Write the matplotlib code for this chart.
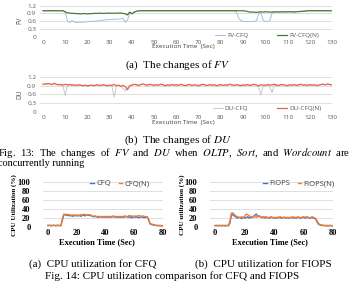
import numpy as np
import matplotlib
matplotlib.use("Agg")
import matplotlib.pyplot as plt

plt.rcParams['mathtext.fontset'] = 'stix'

# ---------------- data ----------------
fv_time = list(range(0, 131))
fv_cfq = [1.0, 1.0, 1.0, 1.0, 1.0, 1.0, 1.0, 1.0, 1.0, 1.0,
          0.92, 0.62, 0.55, 0.63, 0.57, 0.55, 0.56, 0.56, 0.57, 0.57,
          0.58, 0.59, 0.60, 0.60, 0.61, 0.62, 0.63, 0.64, 0.65, 0.66,
          0.66, 0.67, 0.67, 0.68, 0.68, 0.69, 0.72, 0.56, 0.64, 0.92,
          0.90, 0.95, 0.98, 1.0, 1.0, 1.0, 1.0, 1.0, 1.0, 1.0,
          1.0, 1.0, 1.0, 1.0, 1.0, 1.0, 1.0, 1.0, 1.0, 1.0,
          1.0, 1.0, 1.0, 1.0, 1.0, 1.0, 1.0, 1.0, 1.0, 1.0,
          1.0, 1.0, 1.0, 1.0, 1.0, 1.0, 1.0, 1.0, 1.0, 1.0,
          1.0, 1.0, 1.0, 1.0, 1.0, 1.0, 1.0, 0.96, 0.72, 0.62,
          0.60, 0.59, 0.59, 0.59, 0.59, 0.60, 0.62, 0.88, 0.93, 0.64,
          0.59, 0.59, 0.62, 0.90, 0.95, 0.96, 0.97, 0.96, 0.97, 0.97,
          0.96, 0.97, 0.97, 0.96, 0.97, 0.97, 0.98, 0.98, 0.99, 1.0,
          1.0, 1.0, 1.0, 1.0, 1.0, 1.0, 1.0, 1.0, 1.0, 1.0,
          1.0]
fv_cfq_n = [1.0, 1.0, 1.0, 1.0, 1.0, 1.0, 1.0, 1.0, 1.0, 1.0,
            0.96, 0.92, 0.91, 0.90, 0.90, 0.89, 0.89, 0.88, 0.89, 0.89,
            0.88, 0.89, 0.89, 0.90, 0.90, 0.90, 0.91, 0.90, 0.90, 0.91,
            0.91, 0.90, 0.91, 0.91, 0.91, 0.91, 0.90, 0.88, 0.84, 0.95,
            0.88, 0.95, 0.98, 1.0, 1.0, 1.0, 1.0, 1.0, 1.0, 1.0,
            1.0, 1.0, 1.0, 1.0, 1.0, 1.0, 1.0, 1.0, 1.0, 1.0,
            1.0, 1.0, 1.0, 1.0, 1.0, 1.0, 1.0, 1.0, 1.0, 1.0,
            1.0, 1.0, 1.0, 1.0, 1.0, 1.0, 1.0, 1.0, 1.0, 1.0,
            1.0, 1.0, 1.0, 1.0, 1.0, 1.0, 1.0, 1.0, 1.0, 1.0,
            1.0, 0.99, 0.97, 0.95, 0.95, 0.95, 0.94, 0.95, 0.96, 0.95,
            0.96, 0.96, 0.95, 0.95, 0.96, 0.96, 0.95, 0.96, 0.96, 0.95,
            0.96, 0.96, 0.96, 0.95, 0.96, 0.97, 0.97, 0.98, 0.99, 1.0,
            1.0, 1.0, 1.0, 1.0, 1.0, 1.0, 1.0, 1.0, 1.0, 1.0,
            1.0]

du_cfq_n = [0.95, 0.96, 0.97, 0.96, 0.94, 0.98, 0.95, 0.93, 0.94, 0.92,
            0.95, 0.93, 0.94, 0.92, 0.93, 0.91, 0.93, 0.92, 0.90, 0.92,
            0.89, 0.91, 0.92, 0.90, 0.93, 0.92, 0.91, 0.93, 0.92, 0.90,
            0.92, 0.91, 0.94, 0.90, 0.92, 0.88, 0.91, 0.86, 0.76, 0.90,
            0.92, 0.95, 0.93, 0.91, 0.94, 0.96, 0.93, 0.92, 0.95, 0.93,
            0.91, 0.94, 0.92, 0.95, 0.93, 0.90, 0.93, 0.91, 0.94, 0.92,
            0.93, 0.91, 0.95, 0.92, 0.90, 0.93, 0.94, 0.91, 0.93, 0.92,
            0.90, 0.93, 0.95, 0.92, 0.91, 0.94, 0.92, 0.93, 0.90, 0.92,
            0.94, 0.91, 0.93, 0.92, 0.95, 0.93, 0.91, 0.94, 0.92, 0.90,
            0.93, 0.92, 0.94, 0.91, 0.93, 0.95, 0.92, 0.90, 0.93, 0.92,
            0.91, 0.94, 0.92, 0.93, 0.95, 0.92, 0.91, 0.94, 0.93, 0.92,
            0.90, 0.93, 0.92, 0.94, 0.91, 0.93, 0.95, 0.92, 0.93, 0.91,
            0.94, 0.92, 0.93, 0.91, 0.92, 0.94, 0.95, 0.93, 0.96, 0.94,
            0.93]
du_cfq = [0.94, 0.95, 0.96, 0.97, 0.93, 0.97, 0.94, 0.92, 0.93, 0.88,
          0.56, 0.90, 0.93, 0.91, 0.92, 0.90, 0.92, 0.91, 0.89, 0.91,
          0.88, 0.90, 0.91, 0.89, 0.92, 0.91, 0.90, 0.92, 0.91, 0.89,
          0.91, 0.88, 0.50, 0.89, 0.91, 0.87, 0.80, 0.72, 0.82, 0.89,
          0.91, 0.94, 0.92, 0.90, 0.93, 0.95, 0.92, 0.91, 0.94, 0.92,
          0.90, 0.93, 0.91, 0.94, 0.92, 0.89, 0.92, 0.90, 0.93, 0.91,
          0.92, 0.90, 0.94, 0.91, 0.89, 0.92, 0.93, 0.90, 0.92, 0.91,
          0.89, 0.92, 0.94, 0.91, 0.90, 0.93, 0.91, 0.92, 0.89, 0.91,
          0.93, 0.90, 0.92, 0.91, 0.94, 0.92, 0.90, 0.93, 0.91, 0.89,
          0.92, 0.91, 0.93, 0.90, 0.92, 0.94, 0.91, 0.86, 0.58, 0.88,
          0.90, 0.93, 0.88, 0.66, 0.90, 0.91, 0.90, 0.93, 0.92, 0.91,
          0.89, 0.92, 0.91, 0.93, 0.90, 0.92, 0.94, 0.91, 0.92, 0.90,
          0.93, 0.91, 0.92, 0.90, 0.91, 0.93, 0.94, 0.92, 0.95, 0.93,
          0.92]

cpu_time = list(range(0, 81))
cpu_cfq = [3, 3, 2, 3, 3, 2, 3, 3, 2, 3,
           15, 26, 27, 25, 26, 24, 25, 23, 26, 24, 25,
           24, 25, 23, 26, 25, 24, 27, 25, 26, 24,
           23, 22, 23, 22, 21, 22, 22, 21, 22, 21,
           22, 21, 22, 21, 22, 23, 21, 22, 21, 22,
           21, 22, 21, 23, 22, 21, 22, 20, 21, 22,
           21, 22, 20, 21, 22, 21, 20, 21, 22, 15,
           6, 5, 4, 3, 3, 2, 3, 2, 2, 2]
cpu_cfq_n = [2, 3, 3, 2, 3, 3, 2, 3, 3, 2,
             18, 28, 27, 28, 26, 27, 25, 26, 24, 26, 25,
             26, 25, 27, 26, 28, 26, 27, 26, 27, 25,
             24, 23, 24, 22, 23, 22, 23, 22, 23, 22,
             23, 22, 23, 22, 24, 22, 23, 22, 23, 22,
             23, 22, 24, 23, 22, 24, 25, 23, 24, 23,
             24, 23, 25, 24, 23, 24, 23, 22, 21, 17,
             7, 6, 5, 4, 3, 3, 2, 3, 2, 3]
cpu_fiops = [2, 3, 2, 3, 2, 3, 2, 2, 3, 2,
             8, 25, 27, 24, 22, 19, 21, 20, 18, 21, 19,
             20, 22, 19, 21, 20, 22, 26, 28, 22, 24,
             21, 20, 22, 19, 21, 20, 19, 21, 20, 19,
             20, 19, 21, 20, 19, 20, 21, 19, 20, 19,
             20, 21, 19, 20, 19, 21, 20, 19, 20, 21,
             19, 20, 21, 19, 20, 20, 19, 18, 12, 6,
             4, 3, 3, 2, 3, 2, 2, 3, 2, 2]
cpu_fiops_n = [3, 2, 3, 2, 3, 2, 3, 3, 2, 3,
               12, 30, 31, 27, 24, 22, 20, 21, 22, 20, 23,
               28, 27, 24, 22, 21, 23, 22, 21, 24, 23,
               22, 21, 20, 22, 21, 20, 21, 22, 20, 21,
               20, 21, 20, 22, 21, 20, 21, 20, 21, 20,
               21, 20, 22, 21, 20, 22, 21, 20, 21, 22,
               21, 22, 21, 20, 21, 22, 20, 19, 14, 8,
               5, 4, 3, 3, 2, 3, 2, 3, 2, 2]

fv_yticks = [0, 0.3, 0.6, 0.9, 1.2]
fv_ytick_labels = ["0", "0.3", "0.6", "0.9", "1.2"]
fv_xticks = list(range(0, 131, 10))
cpu_yticks = [0, 20, 40, 60, 80, 100]
cpu_xticks = [0, 20, 40, 60, 80]

# ---------------- layout ----------------
W, H = 356, 283
fig = plt.figure(figsize=(W / 100, H / 100), dpi=100)


def px_axes(x0, x1, ytop, ybot):
    return fig.add_axes([x0 / W, 1 - ybot / H, (x1 - x0) / W, (ybot - ytop) / H])


def fx(x):
    return x / W


def fy(y):
    return 1 - y / H


SANS = ['Open Sans', 'DejaVu Sans']
SERIF = ['Liberation Serif', 'DejaVu Serif']
GRID = '#d9d9d9'
TICKC = '#595959'


def style_top(ax):
    ax.set_xlim(-1.5, 130)
    ax.set_ylim(0, 1.2)
    for s in ax.spines.values():
        s.set_visible(False)
    ax.set_yticks(fv_yticks)
    ax.set_yticklabels(fv_ytick_labels)
    ax.set_xticks(fv_xticks)
    ax.tick_params(length=0, labelsize=4.6, colors=TICKC, pad=2.5)
    for lab in ax.get_xticklabels() + ax.get_yticklabels():
        lab.set_family(SANS)
    ax.grid(axis='y', color=GRID, lw=0.6)
    ax.set_axisbelow(True)


# (a) FV
ax1 = px_axes(39.7, 332, 5.5, 37)
style_top(ax1)
l1, = ax1.plot(fv_time, fv_cfq, color='#9dc3e6', lw=0.7)
l2, = ax1.plot(fv_time, fv_cfq_n, color='#4f7a35', lw=0.9)
fig.text(fx(20), fy(20), 'FV', rotation=90, ha='center', va='center',
         fontsize=4.8, color=TICKC, family=SANS)
fig.text(fx(183), fy(46.5), 'Execution Time  (Sec)', ha='center', va='center',
         fontsize=4.6, color='#404040', family=SANS)
fig.legend([l1, l2], ['FV-CFQ', 'FV-CFQ(N)'], loc='center',
           bbox_to_anchor=(fx(267), fy(35)), ncol=2, frameon=False,
           prop={'family': SANS, 'size': 4.6}, labelcolor=TICKC,
           handlelength=1.6, handletextpad=0.3, columnspacing=4.5,
           borderpad=0, borderaxespad=0)
fig.text(fx(178), fy(65.5), r'(a)  The changes of $FV$', ha='center', va='center',
         fontsize=8, family=SERIF)

# (b) DU
ax2 = px_axes(39.7, 332, 77, 111.7)
style_top(ax2)
l3, = ax2.plot(fv_time, du_cfq, color='#c8c8c8', lw=0.7)
l4, = ax2.plot(fv_time, du_cfq_n, color='#e8614f', lw=0.9)
fig.text(fx(20), fy(94), 'DU', rotation=90, ha='center', va='center',
         fontsize=4.8, color=TICKC, family=SANS)
fig.text(fx(183), fy(122.5), 'Execution Time  (Sec)', ha='center', va='center',
         fontsize=4.6, color='#404040', family=SANS)
fig.legend([l3, l4], ['DU-CFQ', 'DU-CFQ(N)'], loc='center',
           bbox_to_anchor=(fx(267), fy(108.5)), ncol=2, frameon=False,
           prop={'family': SANS, 'size': 4.6}, labelcolor=TICKC,
           handlelength=1.6, handletextpad=0.3, columnspacing=4.5,
           borderpad=0, borderaxespad=0)
fig.text(fx(178), fy(140), r'(b)  The changes of $DU$', ha='center', va='center',
         fontsize=8, family=SERIF)

fig.text(fx(-2), fy(152.5), r'Fig.  13:  The  changes  of  $FV$  and  $DU$  when  $\mathit{OLTP}$,  $\mathit{Sort}$,  and  $\mathit{Wordcount}$  are',
         ha='left', va='center', fontsize=7.7, family=SERIF)
fig.text(fx(-2), fy(163), 'concurrently running', ha='left', va='center',
         fontsize=7.4, family=SERIF)


def style_cpu(ax):
    ax.set_xlim(-3.5, 80)
    ax.set_ylim(0, 100)
    for s in ax.spines.values():
        s.set_visible(False)
    ax.set_yticks(cpu_yticks)
    ax.set_xticks(cpu_xticks)
    ax.tick_params(axis='x', length=0, labelsize=6, pad=2)
    ax.tick_params(axis='y', length=0, labelsize=6, pad=9)
    for lab in ax.get_xticklabels() + ax.get_yticklabels():
        lab.set_family(SERIF)
        lab.set_fontweight('bold')
    ax.grid(axis='y', color=GRID, lw=0.6)
    ax.set_axisbelow(True)


BLUE = '#4472c4'
ORANGE = '#ed7d31'

ax3 = px_axes(43, 163, 181.7, 226.7)
style_cpu(ax3)
l5, = ax3.plot(cpu_time, cpu_cfq, color=BLUE, lw=1.0)
l6, = ax3.plot(cpu_time, cpu_cfq_n, color=ORANGE, lw=1.0)
fig.text(fx(14.5), fy(205), 'CPU Utilization (%)', rotation=90, ha='center', va='center',
         fontsize=5, fontweight='bold', family=SERIF)
fig.text(fx(97), fy(242), 'Execution Time (Sec)', ha='center', va='center',
         fontsize=6, fontweight='bold', family=SERIF)
fig.legend([l5, l6], ['CFQ', 'CFQ(N)'], loc='center',
           bbox_to_anchor=(fx(120), fy(183.5)), ncol=2, frameon=False,
           prop={'family': SANS, 'size': 5.5}, labelcolor='#404040',
           handlelength=0.5, handletextpad=0.3, columnspacing=1.0,
           borderpad=0, borderaxespad=0)
fig.text(fx(93), fy(264), '(a)  CPU utilization for CFQ', ha='center', va='center',
         fontsize=8, family=SERIF)

ax4 = px_axes(210, 333, 181.7, 226.7)
style_cpu(ax4)
l7, = ax4.plot(cpu_time, cpu_fiops, color=BLUE, lw=1.0)
l8, = ax4.plot(cpu_time, cpu_fiops_n, color=ORANGE, lw=1.0)
fig.text(fx(182.5), fy(205), 'CPU utilization (%)', rotation=90, ha='center', va='center',
         fontsize=5, fontweight='bold', family=SERIF)
fig.text(fx(270), fy(242), 'Execution Time (Sec)', ha='center', va='center',
         fontsize=6, fontweight='bold', family=SERIF)
fig.legend([l7, l8], ['FIOPS', 'FIOPS(N)'], loc='center',
           bbox_to_anchor=(fx(299), fy(183.5)), ncol=2, frameon=False,
           prop={'family': SANS, 'size': 5.5}, labelcolor='#404040',
           handlelength=0.5, handletextpad=0.3, columnspacing=1.0,
           borderpad=0, borderaxespad=0)
fig.text(fx(263), fy(264), '(b)  CPU utilization for FIOPS', ha='center', va='center',
         fontsize=8, family=SERIF)

fig.text(fx(172), fy(276), 'Fig. 14: CPU utilization comparison for CFQ and FIOPS',
         ha='center', va='center', fontsize=8, family=SERIF)

fig.savefig('out.png', dpi=100)
